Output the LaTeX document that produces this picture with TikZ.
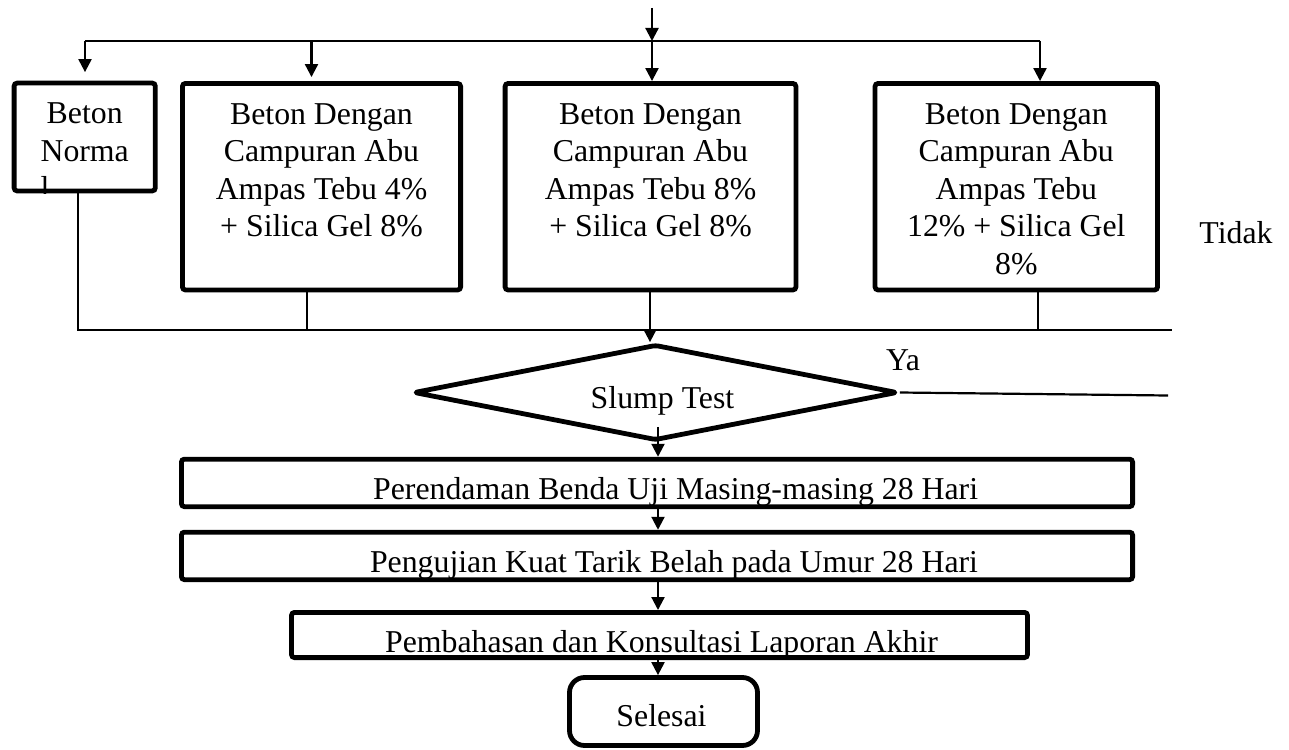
\documentclass[tikz,border=0pt]{standalone}
\usepackage{fontspec}
\setmainfont{Liberation Serif}
\usetikzlibrary{arrows.meta, shapes.geometric}

\begin{document}
\begin{tikzpicture}[
  x=0.5pt, y=-0.5pt,
  every node/.style={align=center, font=\fontsize{15.9pt}{18.75pt}\selectfont},
  box/.style={draw, line width=2.4pt, rounded corners=1.5pt, inner sep=0pt},
  topbox/.style={box, minimum height=103.25pt},
  longbox/.style={box, minimum height=23.75pt},
  txt/.style={inner sep=0pt, outer sep=0pt},
  arr/.style={-{Triangle[width=6.5pt,length=6.5pt]}, line width=1.1pt},
  link/.style={line width=1.1pt},
]
\useasboundingbox (0,0) rectangle (1289,749);

% the four mixes
\node [topbox, minimum width=70.6pt, minimum height=53.9pt] (normal) at (84.7,137) {};
\node [topbox, minimum width=139.1pt] (mix4) at (321.5,186.7) {};
\node [topbox, minimum width=145.4pt] (mix8) at (650.5,186.7) {};
\node [topbox, minimum width=141.25pt] (mix12) at (1016.3,186.7) {};

% text of the first box is cut off at its border
\begin{scope}
  \clip (normal.north west) rectangle (normal.south east);
  \node [txt, anchor=north] (normal_txt) at ([yshift=-11.1pt]normal.north) {Beton\\Norma\\\rlap{l}\phantom{Norma}};
\end{scope}
\node [txt, anchor=north] (mix4_txt) at ([yshift=-11.1pt]mix4.north) {Beton Dengan\\Campuran Abu\\Ampas Tebu 4\%\\+ Silica Gel 8\%};
\node [txt, anchor=north] (mix8_txt) at ([yshift=-11.1pt]mix8.north) {Beton Dengan\\Campuran Abu\\Ampas Tebu 8\%\\+ Silica Gel 8\%};
\node [txt, anchor=north] (mix12_txt) at ([yshift=-11.1pt]mix12.north) {Beton Dengan\\Campuran Abu\\Ampas Tebu\\12\% + Silica Gel\\8\%};

\node [txt, anchor=base] (tidak) at (1236,243.5) {Tidak};

% split the input over the mixes
\coordinate (start) at (652,8);
\coordinate (split) at (652,41);
\coordinate (d1) at (85,41);
\coordinate (d2) at (311.5,41);
\coordinate (d4) at (1040,41);

\draw[arr] (start) -- (split);
\draw[link] (d1) -- (d4);
\draw[arr, shorten >=4.3pt] (d1) -- (d1 |- normal.north);
\draw[arr, shorten >=2pt] (d2) -- (d2 |- mix4.north);
\draw[arr] (split) -- (split |- mix8.north);
\draw[arr] (d4) -- (d4 |- mix12.north);

% join the mixes
\coordinate (c1) at (78.3,331);
\coordinate (c2) at (307,331);
\coordinate (c3) at (650,330);
\coordinate (c4) at (1038,331);
\coordinate (join_end) at (1171.7,330);

\draw[link] (c1 |- normal.south) -- (c1);
\draw[link] (c2 |- mix4.south) -- (c2);
\draw[link] (c4 |- mix12.south) -- (c4);
\draw[link] (c1 |- join_end) -- (join_end);

% Slump Test
\node [box, diamond, line join=round, minimum width=242pt, minimum height=48pt] (slump) at (655.5,392.5) {};
\node [txt, anchor=base] (slump_txt) at ([xshift=3.5pt,yshift=-8pt]slump.center) {Slump Test};
\node [txt, anchor=base] (ya) at (903,370.5) {Ya};
\coordinate (ya_end) at (1168,395.5);

\draw[arr] (c3 |- mix8.south) -- (c3 |- slump.north);
\draw[link] (slump.east) -- (ya_end);

% curing, testing, report
\coordinate (axis) at (658,0);
\coordinate (slump_out) at ([yshift=8pt]slump.south);

\node [longbox, minimum width=475.6pt] (rendam) at (657,482.9) {};
\node [longbox, minimum width=475.6pt] (uji) at (657,555.9) {};
\node [longbox, minimum width=368pt, minimum height=22.6pt] (bahas) at (659.5,635) {};
\node [box, rounded corners=7.5pt, minimum width=94pt, minimum height=34pt] (selesai) at (663.5,711.5) {};

\node [txt, anchor=base] (rendam_txt) at ([xshift=9.3pt,yshift=-8.3pt]rendam.center) {Perendaman Benda Uji Masing-masing 28 Hari};
\node [txt, anchor=base] (uji_txt) at ([xshift=8.5pt,yshift=-8.3pt]uji.center) {Pengujian Kuat Tarik Belah pada Umur 28 Hari};
\node [txt, anchor=base] (bahas_txt) at ([xshift=1pt,yshift=-8.5pt]bahas.center) {Pembahasan dan Konsultasi Laporan Akhir};
\node [txt, anchor=base] (selesai_txt) at ([xshift=-1pt,yshift=-7.5pt]selesai.center) {Selesai};

\draw[arr] (axis |- slump_out) -- (axis |- rendam.north);
\draw[arr] (axis |- rendam.south) -- (axis |- uji.north);
\draw[arr] (axis |- uji.south) -- (axis |- bahas.north);
\draw[arr] (axis |- bahas.south) -- (axis |- selesai.north);

\end{tikzpicture}
\end{document}
